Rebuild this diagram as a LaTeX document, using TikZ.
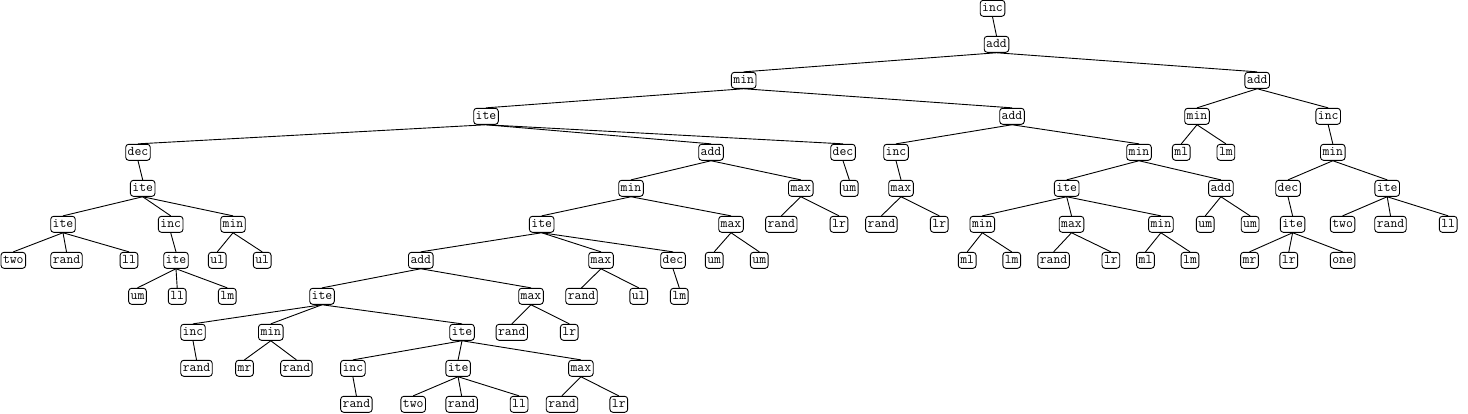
\documentclass[tikz,border=0pt]{standalone}
\usepackage{fontspec}
\tikzset{
  tn/.style={draw, rounded corners=3pt, line width=0.9pt, inner xsep=2pt, inner ysep=0pt,
    minimum height=16pt, text height=8pt, text depth=2.5pt,
    font=\ttfamily\fontsize{13.33}{14}\selectfont},
  edge/.style={line width=0.9pt}
}
\newcommand\mkN[4]{\node[tn] (#1) at (#2,{8.3+36*#3}) {#4};}
\begin{document}
\begin{tikzpicture}[x=1pt,y=-1pt]
\useasboundingbox (0,0) rectangle (1468,413);
\mkN{r}{992.5}{0}{inc}
\mkN{r1}{996.5}{1}{add}
\mkN{a}{743.7}{2}{min}
\mkN{aa}{486}{3}{ite}
\mkN{aaa}{138}{4}{dec}
\mkN{aaaa}{142.7}{5}{ite}
\mkN{c1}{63}{6}{ite}
\mkN{c1a}{13.3}{7}{two}
\mkN{c1b}{66.5}{7}{rand}
\mkN{c1c}{129}{7}{ll}
\mkN{c2}{170.7}{6}{inc}
\mkN{c2a}{176}{7}{ite}
\mkN{c2a1}{137.5}{8}{um}
\mkN{c2a2}{177.2}{8}{ll}
\mkN{c2a3}{227.3}{8}{lm}
\mkN{c3}{233}{6}{min}
\mkN{c3a}{217.3}{7}{ul}
\mkN{c3b}{262.2}{7}{ul}
\mkN{aab}{711}{4}{add}
\mkN{d1}{631}{5}{min}
\mkN{d11}{541.7}{6}{ite}
\mkN{e1}{420.8}{7}{add}
\mkN{e11}{322}{8}{ite}
\mkN{f1}{193}{9}{inc}
\mkN{f1a}{196.5}{10}{rand}
\mkN{f2}{270.8}{9}{min}
\mkN{f2a}{244.5}{10}{mr}
\mkN{f2b}{296.4}{10}{rand}
\mkN{f3}{462}{9}{ite}
\mkN{g1}{352.9}{10}{inc}
\mkN{g1a}{356.4}{11}{rand}
\mkN{g2}{458.1}{10}{ite}
\mkN{g2a}{413.2}{11}{two}
\mkN{g2b}{461.6}{11}{rand}
\mkN{g2c}{519.1}{11}{ll}
\mkN{g3}{580.9}{10}{max}
\mkN{g3a}{562}{11}{rand}
\mkN{g3b}{618.8}{11}{lr}
\mkN{e12}{531}{8}{max}
\mkN{e12a}{511.8}{9}{rand}
\mkN{e12b}{569.3}{9}{lr}
\mkN{e2}{601}{7}{max}
\mkN{e2a}{581.5}{8}{rand}
\mkN{e2b}{638.7}{8}{ul}
\mkN{e3}{673}{7}{dec}
\mkN{e3a}{679.3}{8}{lm}
\mkN{d12}{731}{6}{max}
\mkN{d12a}{714.2}{7}{um}
\mkN{d12b}{759.3}{7}{um}
\mkN{d2}{800.8}{5}{max}
\mkN{d2a}{781.3}{6}{rand}
\mkN{d2b}{839}{6}{lr}
\mkN{aac}{843}{4}{dec}
\mkN{aaca}{849.3}{5}{um}
\mkN{ab}{1012}{3}{add}
\mkN{h1}{896}{4}{inc}
\mkN{h1a}{901}{5}{max}
\mkN{h1a1}{881.4}{6}{rand}
\mkN{h1a2}{939.3}{6}{lr}
\mkN{h2}{1139}{4}{min}
\mkN{i1}{1066.7}{5}{ite}
\mkN{j1}{982.3}{6}{min}
\mkN{j1a}{967.2}{7}{ml}
\mkN{j1b}{1011.7}{7}{lm}
\mkN{j2}{1071.5}{6}{max}
\mkN{j2a}{1053.6}{7}{rand}
\mkN{j2b}{1110.9}{7}{lr}
\mkN{j3}{1160.9}{6}{min}
\mkN{j3a}{1145.5}{7}{ml}
\mkN{j3b}{1190}{7}{lm}
\mkN{i2}{1220.9}{5}{add}
\mkN{i2a}{1205.3}{6}{um}
\mkN{i2b}{1250.1}{6}{um}
\mkN{b}{1257.2}{2}{add}
\mkN{k1}{1197}{3}{min}
\mkN{k1a}{1181.3}{4}{ml}
\mkN{k1b}{1225.9}{4}{lm}
\mkN{k2}{1328.2}{3}{inc}
\mkN{k2a}{1332.8}{4}{min}
\mkN{l1}{1288}{5}{dec}
\mkN{l1a}{1292.6}{6}{ite}
\mkN{l1a1}{1249.5}{7}{mr}
\mkN{l1a2}{1288.8}{7}{lr}
\mkN{l1a3}{1342.6}{7}{one}
\mkN{l2}{1387.2}{5}{ite}
\mkN{l2a}{1342.6}{6}{two}
\mkN{l2b}{1390.5}{6}{rand}
\mkN{l2c}{1448.2}{6}{ll}
\foreach \p/\c in {r/r1, r1/a, r1/b, a/aa, a/ab,
  aa/aaa, aa/aab, aa/aac, aaa/aaaa, aaaa/c1, aaaa/c2, aaaa/c3,
  c1/c1a, c1/c1b, c1/c1c, c2/c2a, c2a/c2a1, c2a/c2a2, c2a/c2a3, c3/c3a, c3/c3b,
  aab/d1, aab/d2, d1/d11, d1/d12, d11/e1, d11/e2, d11/e3,
  e1/e11, e1/e12, e11/f1, e11/f2, e11/f3, f1/f1a, f2/f2a, f2/f2b,
  f3/g1, f3/g2, f3/g3, g1/g1a, g2/g2a, g2/g2b, g2/g2c, g3/g3a, g3/g3b,
  e12/e12a, e12/e12b, e2/e2a, e2/e2b, e3/e3a, d12/d12a, d12/d12b,
  d2/d2a, d2/d2b, aac/aaca,
  ab/h1, ab/h2, h1/h1a, h1a/h1a1, h1a/h1a2, h2/i1, h2/i2,
  i1/j1, i1/j2, i1/j3, j1/j1a, j1/j1b, j2/j2a, j2/j2b, j3/j3a, j3/j3b,
  i2/i2a, i2/i2b,
  b/k1, b/k2, k1/k1a, k1/k1b, k2/k2a, k2a/l1, k2a/l2, l1/l1a,
  l1a/l1a1, l1a/l1a2, l1a/l1a3, l2/l2a, l2/l2b, l2/l2c}
  \draw[edge] (\p.south) -- (\c.north);
\end{tikzpicture}
\end{document}
